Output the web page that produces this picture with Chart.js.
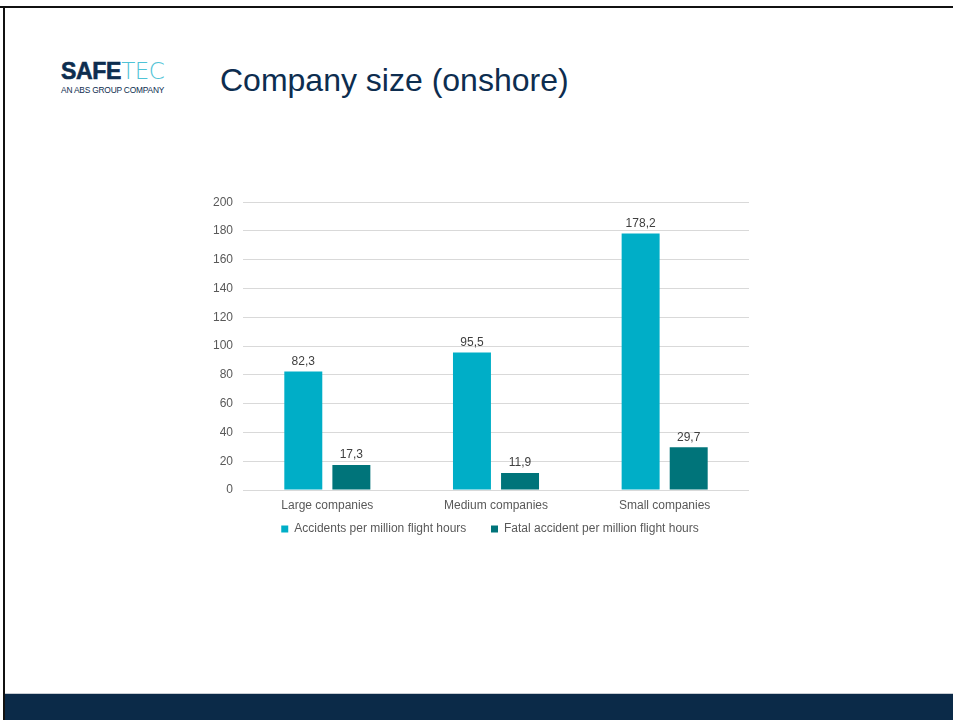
<!DOCTYPE html>
<html>
<head>
<meta charset="utf-8">
<script src="https://cdn.jsdelivr.net/npm/chart.js@4"></script>
<style>
  body { margin: 0; width: 953px; height: 720px; background: #fff; overflow: hidden; font-family: "Liberation Sans", Arial, sans-serif; position: relative; }
  .frame-top { position: absolute; left: 0; top: 6px; width: 953px; height: 2px; background: #111; }
  .frame-left { position: absolute; left: 3px; top: 6px; width: 2px; height: 714px; background: #111; }
  .band { position: absolute; left: 5px; top: 693px; width: 948px; height: 27px; background: #0b2a48; border-top: 1px solid #c8cdd3; }
  .logo { position: absolute; left: 61px; top: 59px; }
  .logo .main { font-size: 23px; line-height: 25px; white-space: nowrap; }
  .logo .safe { font-weight: bold; color: #0d2d4f; letter-spacing: -0.3px; -webkit-text-stroke: 0.6px #0d2d4f; }
  .logo .tec { color: #4fc3d6; font-family: "DejaVu Sans", sans-serif; font-weight: 200; font-size: 23px; letter-spacing: -0.5px; }
  .logo .sub { font-size: 8.4px; color: #0d2d4f; margin-top: 1px; letter-spacing: -0.2px; white-space: nowrap; }
  .title { position: absolute; left: 220px; top: 62px; font-size: 32px; color: #0d2d4f; white-space: nowrap; }
  #wrap { position: absolute; left: 190px; top: 185px; width: 580px; height: 360px; }
</style>
</head>
<body>
<div class="frame-top"></div>
<div class="frame-left"></div>
<div class="band"></div>
<div class="logo">
  <div class="main"><span class="safe">SAFE</span><span class="tec">TEC</span></div>
  <div class="sub">AN ABS GROUP COMPANY</div>
</div>
<div class="title">Company size (onshore)</div>
<div id="wrap"><canvas id="chart"></canvas></div>
<script>
const categories = ['Large companies', 'Medium companies', 'Small companies'];
const accidents = [82.3, 95.5, 178.2];
const fatalAccidents = [17.3, 11.9, 29.7];
const yTicks = [0, 20, 40, 60, 80, 100, 120, 140, 160, 180, 200];

const FONT = '"Liberation Sans", Arial, sans-serif';

// value labels above bars, decimal comma
const valueLabels = {
  id: 'valueLabels',
  afterDatasetsDraw(chart) {
    const ctx = chart.ctx;
    ctx.save();
    ctx.font = '12px ' + FONT;
    ctx.fillStyle = '#404040';
    ctx.textAlign = 'center';
    ctx.textBaseline = 'bottom';
    chart.data.datasets.forEach((ds, i) => {
      chart.getDatasetMeta(i).data.forEach((bar, j) => {
        ctx.fillText(ds.data[j].toFixed(1).replace('.', ','), bar.x, bar.y - 4);
      });
    });
    ctx.restore();
  }
};

// center the legend under the plot area rather than the whole canvas
const legendUnderPlot = {
  id: 'legendUnderPlot',
  afterLayout(chart) {
    if (!chart.legend) return;
    chart.legend.left = chart.chartArea.left - 12;
    chart.legend.right = chart.chartArea.right;
  }
};

new Chart(document.getElementById('chart'), {
  type: 'bar',
  data: {
    labels: categories,
    datasets: [
      { label: 'Accidents per million flight hours', data: accidents, backgroundColor: '#00aec7' },
      { label: 'Fatal accident per million flight hours', data: fatalAccidents, backgroundColor: '#00747a' }
    ]
  },
  options: {
    responsive: true,
    maintainAspectRatio: false,
    animation: false,
    categoryPercentage: 0.57,
    barPercentage: 0.79,
    layout: { padding: { top: 15, right: 21, bottom: 0 } },
    plugins: {
      tooltip: { enabled: false },
      legend: {
        position: 'bottom',
        labels: {
          boxWidth: 7,
          boxHeight: 7,
          padding: 8,
          color: '#595959',
          font: { size: 12, family: FONT },
          generateLabels(chart) {
            const items = Chart.defaults.plugins.legend.labels.generateLabels(chart);
            // a little extra room between the two entries
            items[0].text += '     ';
            return items;
          }
        }
      }
    },
    scales: {
      x: {
        grid: { display: false, drawTicks: false },
        border: { display: false },
        ticks: { color: '#595959', padding: 8, font: { size: 12, family: FONT } },
        afterFit(scale) { scale.height = 25; }
      },
      y: {
        min: 0,
        max: 200,
        afterBuildTicks(scale) { scale.ticks = yTicks.map(v => ({ value: v })); },
        grid: { color: '#d9d9d9', drawTicks: false },
        border: { display: false },
        ticks: { color: '#595959', padding: 10, font: { size: 12, family: FONT } },
        afterFit(scale) { scale.width = 53; }
      }
    }
  },
  plugins: [valueLabels, legendUnderPlot]
});
</script>
</body>
</html>
